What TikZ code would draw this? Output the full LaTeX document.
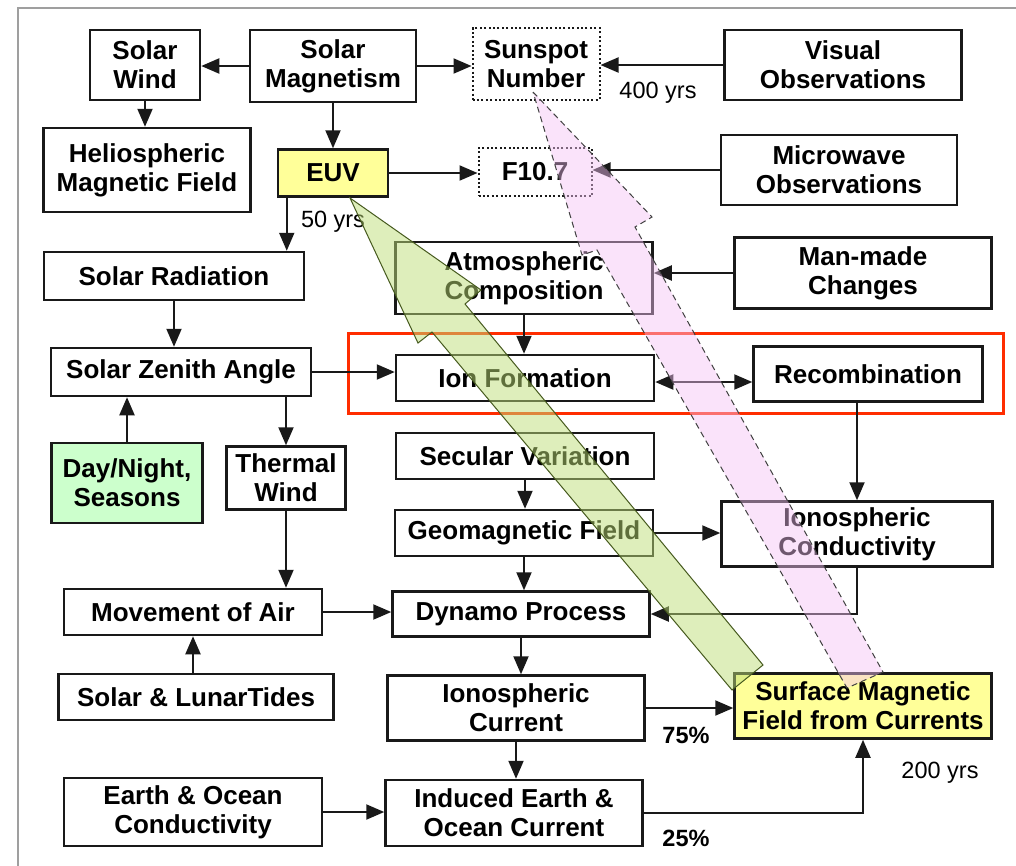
\documentclass[tikz,border=0pt]{standalone}
\usepackage{fontspec}
\setmainfont{Liberation Sans}
\usetikzlibrary{arrows.meta}
\definecolor{boxyellow}{RGB}{255,255,153}
\definecolor{boxgreen}{RGB}{204,255,204}
\definecolor{framered}{RGB}{255,45,0}
\definecolor{greenarrow}{RGB}{190,222,120}
\definecolor{greenedge}{RGB}{70,90,30}
\definecolor{pinkarrow}{RGB}{245,195,245}
\tikzset{
  box/.style={draw=black!90, line width=2.5pt, align=center, inner sep=0pt,
    font=\fontsize{26}{29}\selectfont\bfseries},
  hlbox/.style={box, fill=boxyellow},
  dotbox/.style={box, line width=2pt, dash pattern=on 2pt off 2.4pt},
  lbl/.style={font=\fontsize{23.5}{27}\selectfont},
  pct/.style={font=\fontsize{23.5}{27}\selectfont\bfseries},
  arr/.style={draw=black!90, line width=2pt, -{Triangle[length=18pt,width=15pt]}},
  biarr/.style={arr, {Triangle[length=18pt,width=15pt]}-{Triangle[length=18pt,width=15pt]}}
}
\begin{document}
\begin{tikzpicture}[x=1pt,y=-1pt]
\useasboundingbox (0,0) rectangle (1016,865);
\clip (0,0) rectangle (1016,865);
\fill [white] (0,0) rectangle (1016,865);
\draw [gray!75, line width=2pt] (18,8) rectangle (1060,920);
\node [box, minimum width=110, minimum height=70] (wind) at (145,65) {Solar\\Wind};
\node [box, minimum width=166, minimum height=72] (magn) at (333,66) {Solar\\Magnetism};
\node [dotbox, minimum width=127, minimum height=72] (spot) at (536,64) {Sunspot\\Number};
\node [box, minimum width=237, minimum height=70] (visual) at (843,65) {Visual\\Observations};
\node [box, minimum width=207, minimum height=84] (helio) at (147,170) {Heliospheric\\Magnetic Field};
\node [hlbox, minimum width=110, minimum height=47] (euv) at (333,173) {EUV};
\node [dotbox, minimum width=113, minimum height=48] (f107) at (535,172) {F10.7};
\node [box, minimum width=236, minimum height=70] (micro) at (839,170) {Microwave\\Observations};
\node [box, minimum width=260, minimum height=48] (rad) at (174,276) {Solar Radiation};
\node [box, minimum width=257, minimum height=72] (atmo) at (524,278) {Atmospheric\\Composition};
\node [box, minimum width=257, minimum height=71] (manmade) at (863,273) {Man-made\\Changes};
\node [box, minimum width=260, minimum height=48] (zenith) at (181,372) {Solar Zenith Angle};
\node [box, minimum width=258, minimum height=46] (ion) at (525,378) {Ion Formation};
\node [box, minimum width=229, minimum height=55] (recomb) at (868,374) {Recombination};
\node [box, fill=boxgreen, minimum width=151, minimum height=80] (daynight) at (127,483) {Day/Night,\\Seasons};
\node [box, minimum width=119, minimum height=63] (thermal) at (286,478) {Thermal\\Wind};
\node [box, minimum width=258, minimum height=46] (secular) at (525,456) {Secular Variation};
\node [box, minimum width=258, minimum height=46] (geo) at (524,533) {Geomagnetic Field};
\node [box, minimum width=271, minimum height=65] (iconduct) at (857,534) {Ionospheric\\Conductivity};
\node [box, minimum width=258, minimum height=46] (air) at (193,612) {Movement of Air};
\node [box, minimum width=257, minimum height=45] (dynamo) at (521,614) {Dynamo Process};
\node [box, minimum width=275, minimum height=46] (tides) at (196,697) {Solar \& LunarTides};
\node [box, minimum width=257, minimum height=65] (icurrent) at (516,708) {Ionospheric\\Current};
\node [hlbox, minimum width=257, minimum height=65] (surface) at (863,706) {Surface Magnetic\\Field from Currents};
\node [box, minimum width=258, minimum height=68] (eoc) at (193,812) {Earth \& Ocean\\Conductivity};
\node [box, minimum width=257, minimum height=66] (induced) at (514,813) {Induced Earth \&\\Ocean Current};
\node [lbl] (yrs400) at (658,93) {400 yrs};
\node [lbl] (yrs50) at (333,222) {50 yrs};
\node [pct] (p75) at (686,735) {75\%};
\node [pct] (p25) at (686,838) {25\%};
\node [lbl] (yrs200) at (940,773) {200 yrs};
\draw [framered, line width=3pt] (348,333) rectangle (1003,413);
\coordinate (euvout) at ([xshift=10pt]euv.south west);
\draw [arr] (magn.west) -- (magn.west -| wind.east);
\draw [arr] (magn.east) -- (magn.east -| spot.west);
\draw [arr] (visual.west) -- (visual.west -| spot.east);
\draw [arr] (wind.south) -- (wind.south |- helio.north);
\draw [arr] (magn.south) -- (euv.north);
\draw [arr] (euv.east) -- (euv.east -| f107.west);
\draw [arr] (micro.west) -- (micro.west -| f107.east);
\draw [arr] (euvout) -- (euvout |- rad.north);
\draw [arr] (rad.south) -- (rad.south |- zenith.north);
\draw [arr] (manmade.west) -- (manmade.west -| atmo.east);
\draw [arr] (atmo.south) -- (atmo.south |- ion.north);
\draw [arr] (zenith.east) -- (zenith.east -| ion.west);
\draw [biarr] ([yshift=-4pt]ion.east) -- ([yshift=-4pt]ion.east -| recomb.west);
\draw [arr] (daynight.north) -- (daynight.north |- zenith.south);
\draw [arr] (thermal.north |- zenith.south) -- (thermal.north);
\draw [arr] (recomb.south -| iconduct.north) -- (iconduct.north);
\draw [arr] (secular.south) -- (secular.south |- geo.north);
\draw [arr] (geo.east) -- (geo.east -| iconduct.west);
\draw [arr] (geo.south) -- (geo.south |- dynamo.north);
\draw [arr] (thermal.south) -- (thermal.south |- air.north);
\draw [arr] (air.east) -- (air.east -| dynamo.west);
\draw [arr] (iconduct.south) |- (dynamo.east);
\draw [arr] (tides.north -| air.south) -- (air.south);
\draw [arr] (dynamo.south) -- (dynamo.south |- icurrent.north);
\draw [arr] (icurrent.east) -- (icurrent.east -| surface.west);
\draw [arr] (icurrent.south) -- (icurrent.south |- induced.north);
\draw [arr] (eoc.east) -- (eoc.east -| induced.west);
\draw [arr] (induced.east) -| (surface.south);
\draw [draw=greenedge, line width=1pt, fill=greenarrow, fill opacity=0.5]
  (350,198) -- (481,290) -- (465,304) -- (763,665) -- (732,690) -- (432,332) -- (418,343) -- cycle;
\draw [draw=black!75, line width=1pt, dash pattern=on 6pt off 4pt, fill=pinkarrow, fill opacity=0.45]
  (533,92) -- (652,217) -- (635,227) -- (883,672) -- (847,688) -- (597,250) -- (582,255) -- cycle;
\end{tikzpicture}
\end{document}
